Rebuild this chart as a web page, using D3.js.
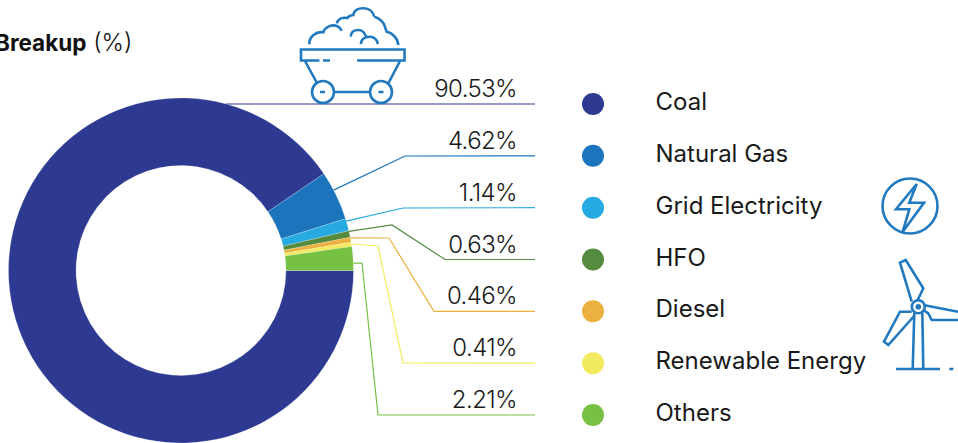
<!DOCTYPE html>
<html>
<head>
<meta charset="utf-8">
<script src="https://cdn.jsdelivr.net/npm/d3@7/dist/d3.min.js"></script>
<style>
    html, body { margin: 0; padding: 0; background: #fff; overflow: hidden; }
    svg { display: block; font-family: Inter, 'Noto Sans', sans-serif; }
    .icon { fill: none; stroke: #2179bf; stroke-width: 2.6; }
</style>
</head>
<body>
<div id="chart"></div>
<script>
'use strict';
var categories = ['Coal', 'Natural Gas', 'Grid Electricity', 'HFO', 'Diesel', 'Renewable Energy', 'Others'];
var shares = [90.53, 4.62, 1.14, 0.63, 0.46, 0.41, 2.21];
var shareLabels = ['90.53%', '4.62%', '1.14%', '0.63%', '0.46%', '0.41%', '2.21%'];
var colours = ['#2e3a92', '#1c75bc', '#27aae1', '#558b3f', '#ecb03f', '#f2ea5e', '#76c043'];

var width = 958, height = 443;
var centre = {x: 181, y: 270.5};
var outerR = 172.5, innerR = 105;

var svg = d3.select('#chart').append('svg')
    .attr('width', width)
    .attr('height', height);

// Title is cut off by the left edge in the original too.
var title = svg.append('text')
    .attr('x', -5)
    .attr('y', 51)
    .attr('font-size', 22.5)
    .attr('fill', '#111');
title.append('tspan').attr('font-weight', 700).text('Breakup');
title.append('tspan').attr('font-weight', 300).attr('font-size', 24).text(' (%)');

// Donut, clockwise from 3 o'clock.
var pie = d3.pie()
    .sort(null)
    .startAngle(Math.PI / 2)
    .endAngle(Math.PI * 2.5);
var slices = pie(shares);
var arc = d3.arc().innerRadius(innerR).outerRadius(outerR);

svg.append('g')
    .attr('transform', 'translate(' + centre.x + ',' + centre.y + ')')
    .selectAll('path')
    .data(slices)
    .enter()
    .append('path')
    .attr('d', arc)
    .attr('fill', function(d, i) { return colours[i]; })
    .attr('stroke', '#fff')
    .attr('stroke-opacity', 0.4)
    .attr('stroke-width', 0.5);

// Rows shared by the leader lines and the legend.
var rowY = d3.scalePoint()
    .domain(categories)
    .range([104, 415]);

// Where along its slice each leader leaves the ring, and its elbows.
var leaderT = [0, 0.38, 0.2, 0.1, 0.1, 0.4, 0.69];
var leaderBends = [
    [],
    [[405, 156]],
    [[403, 208]],
    [[392, 225], [445, 259.5]],
    [[389, 238], [434, 311.3]],
    [[378, 246], [403, 363]],
    [[362, 263], [378, 415]]
];
var leaderEndX = 535;

function leaderPoints(d, i) {
    var y = rowY(categories[i]);
    var pts = [];
    if (i === 0) {
        // Coal's leader just runs along the top of the ring.
        pts.push([centre.x + Math.sqrt(outerR * outerR - (y - centre.y) * (y - centre.y)), y]);
    } else {
        var a = d.startAngle + (d.endAngle - d.startAngle) * leaderT[i];
        pts.push([centre.x + outerR * Math.sin(a), centre.y - outerR * Math.cos(a)]);
    }
    return pts.concat(leaderBends[i], [[leaderEndX, y]]);
}

svg.append('g')
    .selectAll('path')
    .data(slices)
    .enter()
    .append('path')
    .attr('d', function(d, i) { return d3.line()(leaderPoints(d, i)); })
    .attr('fill', 'none')
    .attr('stroke', function(d, i) { return colours[i]; })
    .attr('stroke-width', 1.2);

// Percent labels above the leaders.
svg.append('g')
    .selectAll('text')
    .data(shareLabels)
    .enter()
    .append('text')
    .attr('x', 517)
    .attr('y', function(d, i) { return rowY(categories[i]) - 7; })
    .attr('text-anchor', 'end')
    .attr('font-size', 24)
    .attr('font-weight', 300)
    .attr('letter-spacing', -0.6)
    .attr('fill', '#1a1a1a')
    .text(function(d) { return d; });

// Legend.
var legend = svg.append('g')
    .selectAll('g')
    .data(categories)
    .enter()
    .append('g')
    .attr('transform', function(d) { return 'translate(0,' + rowY(d) + ')'; });
legend.append('circle')
    .attr('cx', 593)
    .attr('cy', 0)
    .attr('r', 11)
    .attr('fill', function(d, i) { return colours[i]; });
legend.append('text')
    .attr('x', 655.5)
    .attr('y', 6)
    .attr('font-size', 24)
    .attr('font-weight', 400)
    .attr('fill', '#1a1a1a')
    .text(function(d) { return d; });

/*
 * Decorative icons.
 */
var icons = svg.append('g').attr('class', 'icon');

// Coal cart.
icons.append('path').attr('d',
    'M309.3,44.3 C309,37 316,31 323.3,32.3 C325,27 332,24 337,26 C339,27 341,29 341.7,30.7' +
    'M336.7,23.3 C338,19 342,17 347,18 C349,16 351,15 353.3,15 C354,10 359,8 363.3,8.3 C369,8 373,12 374.3,16.7' +
    'M374.3,16.7 C379,18 384,22 385,26.7 C385.5,29 386,30 386.7,31.7 C393,33 398,39 398.3,45' +
    'M350.7,36.7 C351,32 354,30 358.3,30 C362,30 365,33 366,36.7' +
    'M361,44 C361,39 365,36.7 370,36.7 C374,36.7 377.7,40 377.7,44' +
    'M319.5,60.5 H301 V49.5 H404.5 V60.5 H357 M323,60.5 H330' +
    'M305,61 L317,83 M400,61 L388,84 M335,92 H370 M320,92 H325 M378.5,92 H383.5');
icons.append('circle').attr('cx', 323).attr('cy', 92).attr('r', 11);
icons.append('circle').attr('cx', 381).attr('cy', 92).attr('r', 11);

// Lightning bolt.
icons.append('circle').attr('cx', 910).attr('cy', 206).attr('r', 27.5);
icons.append('path').attr('d',
    'M916.7,184 L896,209.3 H909.3 L902.7,231.7 L924,202.7 H909.3 Z');

// Wind turbine.
icons.append('circle').attr('cx', 918.3).attr('cy', 306.7).attr('r', 6.5);
icons.append('circle').attr('cx', 918.3).attr('cy', 306.7).attr('r', 1.5);
icons.append('path').attr('d',
    'M914.3,312.7 L912.7,369 M922.3,312.7 L923.3,369 M896,369 H940 M949.3,369 H953.3' +
    'M911.7,301.7 L900,262.7 L905.7,260 L923.3,288.3 L917.3,300.7' +
    'M911.7,311.7 L900,311.7 L884,341.7 L888.3,345 L915,315' +
    'M923.3,305 L958,311.7 M958,320 H931.7 L928.3,313.3 L923.3,310');
</script>
</body>
</html>
